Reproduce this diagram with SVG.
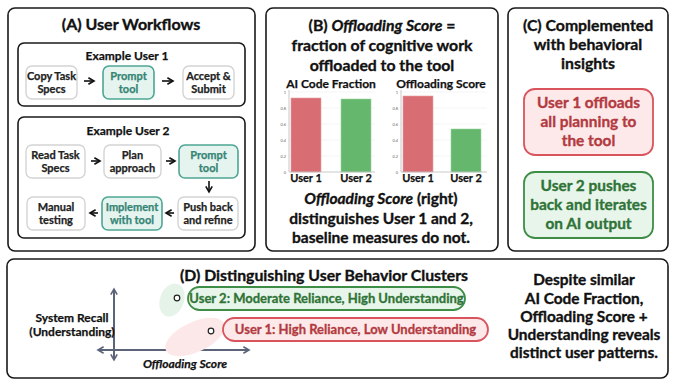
<svg xmlns="http://www.w3.org/2000/svg" width="680" height="388" viewBox="0 0 680 388">
<defs>
<style>
text{font-family:"Lato","Open Sans","Liberation Sans",sans-serif;font-weight:700;fill:#111;stroke:#111;stroke-width:0.35;text-anchor:middle}
.panel{fill:#fff;stroke:#1a1a1a;stroke-width:1.6}
.inner{fill:#fff;stroke:#1a1a1a;stroke-width:1.6}
.step{fill:#fff;stroke:#d4d4d4;stroke-width:1.4}
.teal{fill:#e6f4f0;stroke:#4ea694;stroke-width:1.6}
.st{font-size:11px;fill:#222;stroke:#222;stroke-width:0.25}
.tt{font-size:11px;fill:#358574;stroke:#358574;stroke-width:0.25}
.h1{font-size:16px}
.h2{font-size:12px;stroke-width:0.25}
.big{font-size:15.8px}
.cap{font-size:15.5px}
.arr{stroke:#111;stroke-width:1.6;fill:none;marker-end:url(#ah)}
.tick{font-size:4px;fill:#666;stroke:none;font-weight:400;text-anchor:end}
.grid{stroke:#eee;stroke-width:0.6}
.ax{stroke:#bbb;stroke-width:0.8}
.red{fill:#d86d73;stroke:#e9a0a4;stroke-width:0.6}
.grn{fill:#64b76d;stroke:#9ed3a3;stroke-width:0.6}
.xl{font-size:11px;stroke-width:0.25}
.axis{stroke:#5b6478;stroke-width:2;fill:none;marker-end:url(#ax);marker-start:url(#axs)}
.it{font-style:italic}
.rt{fill:#b23a40;stroke:#b23a40}
.gt{fill:#2f7337;stroke:#2f7337}
.side{font-size:15.4px}
</style>
<marker id="ah" viewBox="0 0 10 10" refX="8" refY="5" markerWidth="5" markerHeight="5" orient="auto"><path d="M1,1 L8,5 L1,9" fill="none" stroke="#111" stroke-width="2"/></marker>
<marker id="ax" viewBox="0 0 10 10" refX="8" refY="5" markerWidth="4" markerHeight="4" orient="auto"><path d="M1,1 L8,5 L1,9" fill="none" stroke="#5b6478" stroke-width="2"/></marker>
<marker id="axs" viewBox="0 0 10 10" refX="2" refY="5" markerWidth="4" markerHeight="4" orient="auto"><path d="M9,1 L2,5 L9,9" fill="none" stroke="#5b6478" stroke-width="2"/></marker>
<marker id="ca" viewBox="0 0 10 10" refX="8" refY="5" markerWidth="6" markerHeight="6" orient="auto"><path d="M1,1 L8,5 L1,9" fill="none" stroke="#111" stroke-width="1.8"/></marker>
<marker id="cs" viewBox="0 0 10 10" refX="2" refY="5" markerWidth="6" markerHeight="6" orient="auto"><path d="M9,1 L2,5 L9,9" fill="none" stroke="#111" stroke-width="1.8"/></marker>
</defs>
<rect width="680" height="388" fill="#fff"/>

<!-- Panel A -->
<g id="panelA">
<rect class="panel" x="8" y="8" width="247" height="243" rx="7"/>
<text class="h1" x="131" y="30">(A) User Workflows</text>
</g>
<g id="user1">
<rect class="inner" x="18" y="43" width="227" height="63" rx="6"/>
<text class="h2" x="127" y="60">Example User 1</text>
</g>
<g id="u1-copy"><rect class="step" x="26" y="66" width="51" height="33" rx="6"/><text class="st" x="51.5" y="80">Copy Task</text><text class="st" x="51.5" y="93">Specs</text></g>
<g id="u1-prompt"><rect class="teal" x="103" y="66" width="51" height="33" rx="6"/><text class="tt" x="128.5" y="80">Prompt</text><text class="tt" x="128.5" y="93">tool</text></g>
<g id="u1-accept"><rect class="step" x="183" y="66" width="51" height="33" rx="6"/><text class="st" x="208.5" y="80">Accept &amp;</text><text class="st" x="208.5" y="93">Submit</text></g>

<g id="user2">
<rect class="inner" x="18" y="117" width="227" height="121" rx="6"/>
<text class="h2" x="128" y="135">Example User 2</text>
</g>
<g id="u2-read"><rect class="step" x="26" y="145" width="59" height="33" rx="6"/><text class="st" x="55.5" y="159">Read Task</text><text class="st" x="55.5" y="172">Specs</text></g>
<g id="u2-plan"><rect class="step" x="104" y="145" width="57" height="33" rx="6"/><text class="st" x="132.5" y="159">Plan</text><text class="st" x="132.5" y="172">approach</text></g>
<g id="u2-prompt"><rect class="teal" x="179" y="145" width="59" height="33" rx="6"/><text class="tt" x="208.5" y="159">Prompt</text><text class="tt" x="208.5" y="172">tool</text></g>
<g id="u2-push"><rect class="step" x="178" y="197" width="60" height="33" rx="6"/><text class="st" x="208" y="211">Push back</text><text class="st" x="208" y="224">and refine</text></g>
<g id="u2-impl"><rect class="teal" x="102" y="197" width="60" height="33" rx="6"/><text class="tt" x="132" y="211">Implement</text><text class="tt" x="132" y="224">with tool</text></g>
<g id="u2-manual"><rect class="step" x="27" y="197" width="58" height="33" rx="6"/><text class="st" x="56" y="211">Manual</text><text class="st" x="56" y="224">testing</text></g>

<g id="connectors">
<line class="arr" x1="84" y1="81" x2="94" y2="81"/>
<line class="arr" x1="162" y1="81" x2="173" y2="81"/>
<line class="arr" x1="91" y1="161" x2="100" y2="161"/>
<line class="arr" x1="166" y1="161" x2="175" y2="161"/>
<line class="arr" x1="209" y1="181" x2="209" y2="192"/>
<line class="arr" x1="174" y1="213" x2="166" y2="213"/>
<line class="arr" x1="98" y1="213" x2="90" y2="213"/>
<path d="M486,299 C505,301 515,307 514,312 C512,317 505,320 500,323" fill="none" stroke="#111" stroke-width="1.6" marker-start="url(#cs)" marker-end="url(#ca)"/>
</g>

<!-- Panel B -->
<g id="panelB">
<rect class="panel" x="266" y="8" width="232" height="243" rx="7"/>
<text class="big" x="382" y="31">(B) <tspan class="it">Offloading Score</tspan> =</text>
<text class="big" x="382" y="51">fraction of cognitive work</text>
<text class="big" x="382" y="71">offloaded to the tool</text>
<text class="h2" x="331" y="88">AI Code Fraction</text>
<text class="h2" x="441" y="88">Offloading Score</text>
</g>
<g id="chart1">
<line class="grid" x1="289" y1="92" x2="375" y2="92"/>
<line class="grid" x1="289" y1="108" x2="375" y2="108"/>
<line class="grid" x1="289" y1="124" x2="375" y2="124"/>
<line class="grid" x1="289" y1="140" x2="375" y2="140"/>
<line class="grid" x1="289" y1="156" x2="375" y2="156"/>
<rect class="red" x="291" y="98" width="30" height="74"/>
<rect class="grn" x="341" y="99" width="30" height="73"/>
<line class="ax" x1="289" y1="90" x2="289" y2="172"/>
<line class="ax" x1="289" y1="172" x2="375" y2="172"/>
<text class="tick" x="286" y="93.5">1</text>
<text class="tick" x="286" y="109.5">0.8</text>
<text class="tick" x="286" y="125.5">0.6</text>
<text class="tick" x="286" y="141.5">0.4</text>
<text class="tick" x="286" y="157.5">0.2</text>
<text class="tick" x="286" y="173.5">0</text>
<text class="xl" x="306" y="182">User 1</text>
<text class="xl" x="356" y="182">User 2</text>
</g>
<g id="chart2">
<line class="grid" x1="401" y1="92" x2="487" y2="92"/>
<line class="grid" x1="401" y1="108" x2="487" y2="108"/>
<line class="grid" x1="401" y1="124" x2="487" y2="124"/>
<line class="grid" x1="401" y1="140" x2="487" y2="140"/>
<line class="grid" x1="401" y1="156" x2="487" y2="156"/>
<rect class="red" x="403" y="96" width="30" height="76"/>
<rect class="grn" x="451" y="129" width="30" height="43"/>
<line class="ax" x1="401" y1="90" x2="401" y2="172"/>
<line class="ax" x1="401" y1="172" x2="487" y2="172"/>
<text class="tick" x="398" y="93.5">1</text>
<text class="tick" x="398" y="109.5">0.8</text>
<text class="tick" x="398" y="125.5">0.6</text>
<text class="tick" x="398" y="141.5">0.4</text>
<text class="tick" x="398" y="157.5">0.2</text>
<text class="tick" x="398" y="173.5">0</text>
<text class="xl" x="418" y="182">User 1</text>
<text class="xl" x="466" y="182">User 2</text>
</g>
<g id="panelB-caption">
<text class="cap" x="381" y="204"><tspan class="it">Offloading Score</tspan> (right)</text>
<text class="cap" x="381" y="224">distinguishes User 1 and 2,</text>
<text class="cap" x="381" y="243">baseline measures do not.</text>
</g>

<!-- Panel C -->
<g id="panelC">
<rect class="panel" x="508" y="8" width="160" height="243" rx="7"/>
<text class="big" x="588" y="31">(C) Complemented</text>
<text class="big" x="588" y="50">with behavioral</text>
<text class="big" x="588" y="69">insights</text>
</g>
<g id="insight1">
<rect x="524" y="89" width="129" height="66" rx="11" fill="#fde9ea" stroke="#d9545c" stroke-width="1.8"/>
<text class="side rt" x="588.5" y="108">User 1 offloads</text>
<text class="side rt" x="588.5" y="127">all planning to</text>
<text class="side rt" x="588.5" y="146">the tool</text>
</g>
<g id="insight2">
<rect x="524" y="172" width="129" height="66" rx="11" fill="#e8f5ea" stroke="#3e8d47" stroke-width="1.8"/>
<text class="side gt" x="588.5" y="191">User 2 pushes</text>
<text class="side gt" x="588.5" y="210">back and iterates</text>
<text class="side gt" x="588.5" y="229">on AI output</text>
</g>

<!-- Panel D -->
<g id="panelD">
<rect class="panel" x="7" y="259" width="661" height="119" rx="7"/>
<text class="big" x="324" y="281">(D) Distinguishing User Behavior Clusters</text>
</g>
<g id="axes">
<line class="axis" x1="114" y1="360" x2="114" y2="289"/>
<line class="axis" x1="98" y1="350" x2="249" y2="350"/>
<text class="h2" x="72" y="322">System Recall</text>
<text class="h2" x="72" y="336">(Understanding)</text>
<text class="h2 it" x="185" y="368">Offloading Score</text>
</g>
<g id="clusters">
<ellipse cx="172" cy="300" rx="12" ry="17" transform="rotate(20 172 300)" fill="#e6f3e8"/>
<ellipse cx="195" cy="337" rx="32" ry="15" transform="rotate(-25 195 337)" fill="#fde8e9"/>
<circle cx="177" cy="298" r="2.8" fill="#fff" stroke="#222" stroke-width="1.2"/>
<circle cx="211" cy="331" r="2.8" fill="#fff" stroke="#222" stroke-width="1.2"/>
</g>
<g id="cluster-user2">
<rect x="188" y="287" width="277" height="23" rx="11.5" fill="#e8f5ea" stroke="#3e8d47" stroke-width="1.8"/>
<text class="gt" x="326.5" y="303" style="font-size:13px;stroke-width:0.3">User 2: Moderate Reliance, High Understanding</text>
</g>
<g id="cluster-user1">
<rect x="223" y="318" width="265" height="23" rx="11.5" fill="#fde9ea" stroke="#d9545c" stroke-width="1.8"/>
<text class="rt" x="355.5" y="334" style="font-size:13px;stroke-width:0.3">User 1: High Reliance, Low Understanding</text>
</g>
<g id="takeaway">
<text class="side" x="584" y="285">Despite similar</text>
<text class="side" x="584" y="304">AI Code Fraction,</text>
<text class="side" x="584" y="322">Offloading Score +</text>
<text class="side" x="584" y="340">Understanding reveals</text>
<text class="side" x="584" y="358">distinct user patterns.</text>
</g>
</svg>
